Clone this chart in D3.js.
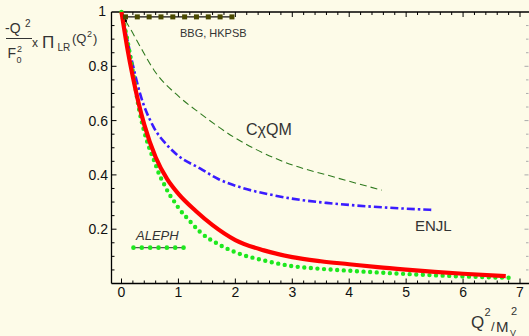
<!DOCTYPE html>
<html>
<head>
<meta charset="utf-8">
<script src="https://cdn.jsdelivr.net/npm/d3@7"></script>
<style>
  html, body { margin: 0; padding: 0; background: #fdfbe8; }
  svg { display: block; font-family: "Liberation Sans", Arial, sans-serif; }
</style>
</head>
<body>
<div id="chart"></div>
<script>
// readings from the plot: [Q^2/Mv^2, value]
const redLine = [[0,1],[0.1,0.87],[0.2,0.76],[0.3,0.665],[0.4,0.585],[0.6,0.465],[0.8,0.385],[1.0,0.33],[1.3,0.268],[1.6,0.215],[2,0.16],[2.5,0.122],[3,0.097],[3.5,0.082],[4,0.071],[4.5,0.06],[5,0.051],[5.5,0.043],[6,0.036],[6.75,0.027]]
const greenDots = [[0,1],[0.1,0.9],[0.2,0.78],[0.31,0.64],[0.4,0.559],[0.49,0.498],[0.58,0.449],[0.66,0.403],[0.75,0.365],[0.83,0.332],[0.92,0.304],[1.0,0.279],[1.2,0.23],[1.38,0.19],[1.7,0.145],[2,0.115],[2.5,0.085],[3,0.064],[3.5,0.054],[4,0.047],[5,0.035],[6,0.026],[6.8,0.021]]
const enjl = [[0,1],[0.1,0.9],[0.18,0.823],[0.325,0.70],[0.56,0.578],[0.8,0.51],[1.0,0.47],[1.38,0.424],[1.7,0.385],[2.14,0.351],[2.6,0.328],[3.14,0.308],[3.6,0.297],[4.02,0.289],[4.7,0.279],[5.48,0.271]]
const cxqm = [[0.07,0.968],[0.15,0.94],[0.33,0.872],[0.59,0.78],[1.0,0.69],[1.38,0.627],[1.96,0.541],[2.84,0.449],[3.72,0.393],[4.57,0.344]]
const bbgRange = [0.07, 1.94]
const bbgValue = 0.982
const alephRange = [0.21, 1.09]
const alephValue = 0.132

const xTicks = [0, 1, 2, 3, 4, 5, 6, 7]
const yTicks = [0.2, 0.4, 0.6, 0.8, 1]

const W = 529, H = 336
const x = d3.scaleLinear().domain([0, 7]).range([121.5, 520])
const y = d3.scaleLinear().domain([0, 1]).range([283.5, 12])
const pLeft = 111.5, pRight = 528.5, pTop = 12, pBottom = 283.5

const svg = d3.select('#chart').append('svg')
  .attr('width', W)
  .attr('height', H)

svg.append('rect').attr('width', W).attr('height', H).attr('fill', '#fdfbe8')

// axes frame
const frame = svg.append('g').attr('stroke', '#000')
frame.append('line').attr('x1', pLeft).attr('x2', pLeft).attr('y1', pTop).attr('y2', pBottom).attr('stroke-width', 1.3)
frame.append('line').attr('x1', pLeft).attr('x2', W).attr('y1', pBottom).attr('y2', pBottom).attr('stroke-width', 1.3)
frame.append('line').attr('x1', pLeft).attr('x2', W).attr('y1', pTop).attr('y2', pTop).attr('stroke-width', 1.3)

// minor/major ticks
const xMinor = d3.range(0, 7.01, 0.2)
const yMinor = d3.range(0.05, 1.0, 0.05)
const isMajorX = v => Math.abs(v - Math.round(v)) < 1e-6
const isMajorY = v => Math.abs(v * 5 - Math.round(v * 5)) < 1e-6

frame.append('g').selectAll('line').data(xMinor).join('line')
  .attr('x1', d => x(d)).attr('x2', d => x(d))
  .attr('y1', pBottom).attr('y2', d => pBottom - (isMajorX(d) ? 5 : 3))
frame.append('g').selectAll('line').data(xMinor).join('line')
  .attr('x1', d => x(d)).attr('x2', d => x(d))
  .attr('y1', pTop).attr('y2', d => pTop + (isMajorX(d) ? 5 : 3))
frame.append('g').selectAll('line').data(yMinor).join('line')
  .attr('x1', pLeft).attr('x2', d => pLeft + (isMajorY(d) ? 5 : 3))
  .attr('y1', d => y(d)).attr('y2', d => y(d))
svg.append('g').attr('stroke', '#aaa').selectAll('line').data(yMinor).join('line')
  .attr('x1', pRight).attr('x2', d => pRight - (isMajorY(d) ? 4 : 2.5))
  .attr('y1', d => y(d)).attr('y2', d => y(d))

// tick labels
svg.append('g').attr('font-size', 14).attr('fill', '#111').attr('text-anchor', 'middle')
  .selectAll('text').data(xTicks).join('text')
  .attr('x', d => x(d)).attr('y', 297)
  .text(d => d)
svg.append('g').attr('font-size', 14).attr('fill', '#111').attr('text-anchor', 'end')
  .selectAll('text').data(yTicks).join('text')
  .attr('x', d => d === 1 ? 106 : 108)
  .attr('y', d => d === 1 ? y(d) + 4 : y(d) + 5)
  .text(d => d === 1 ? '1' : d3.format('.1f')(d))

// curves
const line = d3.line().x(d => x(d[0])).y(d => y(d[1])).curve(d3.curveMonotoneX)
const curves = svg.append('g').attr('fill', 'none')

curves.append('path').datum(cxqm)
  .attr('d', line).attr('stroke', '#2f7a1f').attr('stroke-width', 1.1).attr('stroke-dasharray', '7,4')
curves.append('circle').attr('cx', x(cxqm[0][0])).attr('cy', y(cxqm[0][1])).attr('r', 1.6).attr('fill', '#000')

curves.append('path').datum(enjl)
  .attr('d', line).attr('stroke', '#3a1cff').attr('stroke-width', 2.6).attr('stroke-dasharray', '8,3,2.5,3')

curves.append('path').datum(greenDots)
  .attr('d', line).attr('stroke', '#1ee81e').attr('stroke-width', 4.4)
  .attr('stroke-linecap', 'round').attr('stroke-dasharray', '0,6.6')

curves.append('path').datum(redLine)
  .attr('d', line).attr('stroke', '#ff0000').attr('stroke-width', 4.2)

// BBG, HKPSB band
const bbgPts = d3.range(bbgRange[0], bbgRange[1] + 0.001, (bbgRange[1] - bbgRange[0]) / 9)
svg.append('line')
  .attr('x1', x(bbgRange[0])).attr('x2', x(bbgRange[1]))
  .attr('y1', y(bbgValue)).attr('y2', y(bbgValue))
  .attr('stroke', '#111').attr('stroke-width', 1.2)
svg.append('g').selectAll('rect').data(bbgPts).join('rect')
  .attr('x', d => x(d) - 2.5).attr('y', y(bbgValue) - 2.5)
  .attr('width', 5).attr('height', 5).attr('fill', '#4a4a00')

// ALEPH band
const alephPts = d3.range(alephRange[0], alephRange[1] + 0.001, (alephRange[1] - alephRange[0]) / 6)
svg.append('line')
  .attr('x1', x(alephRange[0])).attr('x2', x(alephRange[1]))
  .attr('y1', y(alephValue)).attr('y2', y(alephValue))
  .attr('stroke', '#555').attr('stroke-width', 1.2)
svg.append('g').selectAll('circle').data(alephPts).join('circle')
  .attr('cx', d => x(d)).attr('cy', y(alephValue)).attr('r', 2.3).attr('fill', '#1ee81e')

// labels
const lab = svg.append('g').attr('fill', '#333')
lab.append('text').attr('x', 180).attr('y', 37).attr('font-size', 11).text('BBG, HKPSB')
lab.append('text').attr('x', 246).attr('y', 135).attr('font-size', 16).text('CχQM')
lab.append('text').attr('x', 415).attr('y', 231).attr('font-size', 15).text('ENJL')
lab.append('text').attr('x', 136).attr('y', 240).attr('font-size', 13).attr('font-style', 'italic').text('ALEPH')

// y-axis title: -Q^2 / F0^2  x  Pi_LR(Q^2)
const yt = svg.append('g').attr('fill', '#333')
yt.append('text').attr('x', 5).attr('y', 33).attr('font-size', 14).text('-Q')
yt.append('text').attr('x', 25).attr('y', 27).attr('font-size', 10).text('2')
yt.append('line').attr('x1', 6).attr('x2', 32).attr('y1', 38.5).attr('y2', 38.5).attr('stroke', '#333').attr('stroke-width', 1)
yt.append('text').attr('x', 7.5).attr('y', 58).attr('font-size', 14).text('F')
yt.append('text').attr('x', 17).attr('y', 52).attr('font-size', 9).text('2')
yt.append('text').attr('x', 16.5).attr('y', 63).attr('font-size', 9).text('0')
yt.append('text').attr('x', 32).attr('y', 47).attr('font-size', 12).text('x')
yt.append('text').attr('x', 42).attr('y', 48).attr('font-size', 17).text('Π')
yt.append('text').attr('x', 57.5).attr('y', 51).attr('font-size', 10).text('LR')
yt.append('text').attr('x', 72).attr('y', 43).attr('font-size', 13).text('(Q')
yt.append('text').attr('x', 87).attr('y', 37).attr('font-size', 9).text('2')
yt.append('text').attr('x', 93).attr('y', 43).attr('font-size', 13).text(')')

// x-axis title: Q^2 / Mv^2
const xt = svg.append('g').attr('fill', '#333')
xt.append('text').attr('x', 471).attr('y', 328).attr('font-size', 17).text('Q')
xt.append('text').attr('x', 484.5).attr('y', 316).attr('font-size', 11).text('2')
xt.append('text').attr('x', 491).attr('y', 331).attr('font-size', 13).text('/')
xt.append('text').attr('x', 496).attr('y', 331.5).attr('font-size', 15).text('M')
xt.append('text').attr('x', 511).attr('y', 315).attr('font-size', 11).text('2')
xt.append('text').attr('x', 510).attr('y', 335.5).attr('font-size', 9).text('V')
</script>
</body>
</html>
